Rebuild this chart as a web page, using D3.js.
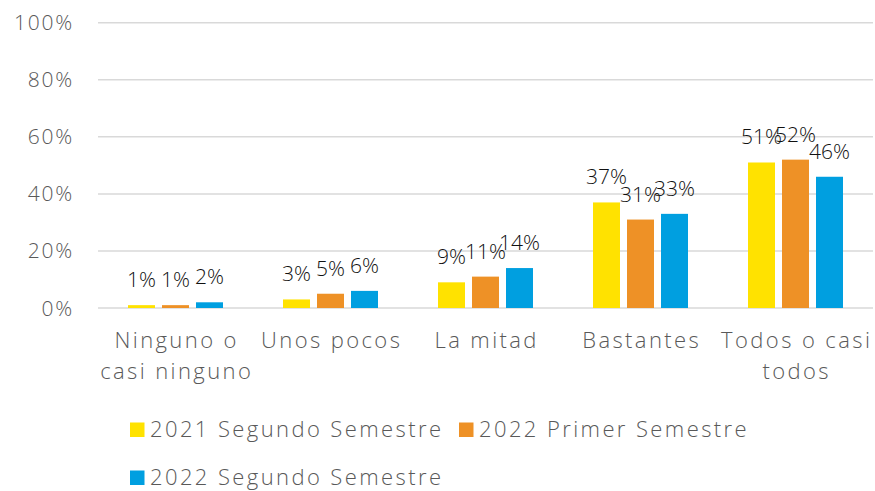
<!DOCTYPE html>
<html><head><meta charset="utf-8">
<script src="https://cdn.jsdelivr.net/npm/d3@7"></script>
<style>body{margin:0;background:#fff;}svg{display:block;font-family:"Open Sans",Lato,sans-serif;}</style>
</head><body>
<svg id="c" width="875" height="491"></svg>
<script>
const categories = [["Ninguno o","casi ninguno"],["Unos pocos"],["La mitad"],["Bastantes"],["Todos o casi","todos"]];
const seriesNames = ["2021 Segundo Semestre","2022 Primer Semestre","2022 Segundo Semestre"];
const s2021S2 = [1,3,9,37,51];
const s2022S1 = [1,5,11,31,52];
const s2022S2 = [2,6,14,33,46];
const yTicks = [0,20,40,60,80,100];
const colors = ["#FFE200","#EE9126","#009FE0"];
const seriesValues = [s2021S2,s2022S1,s2022S2];

const svg = d3.select("#c");
const pLeft = 98, pRight = 873, pTop = 22.7, pBottom = 308;
const y = d3.scaleLinear().domain([0,100]).range([pBottom, pTop]);
const x0 = d3.scaleBand().domain(d3.range(categories.length)).range([pLeft,pRight]).paddingInner(60/155).paddingOuter(30/155);
const x1 = d3.scaleBand().domain(d3.range(3)).range([0,x0.bandwidth()]).paddingInner(7/34).paddingOuter(0);

// grid
svg.append("g").selectAll("line").data(yTicks).join("line")
  .attr("x1",pLeft).attr("x2",pRight).attr("y1",d=>y(d)).attr("y2",d=>y(d))
  .attr("stroke","#d9d9d9").attr("stroke-width",1.5);
// y labels
svg.append("g").selectAll("text").data(yTicks).join("text")
  .attr("x",74).attr("y",d=>y(d)+7.5).attr("text-anchor","end")
  .attr("font-size",21).attr("font-weight",300).attr("letter-spacing",1.8)
  .attr("fill","#595959").text(d=>d+"%");

// bars
const g = svg.append("g");
seriesValues.forEach((vals,si)=>{
  g.selectAll(".b"+si).data(vals).join("rect").attr("class","b"+si)
    .attr("x",(d,i)=>x0(i)+x1(si)).attr("width",x1.bandwidth())
    .attr("y",d=>y(d)).attr("height",d=>pBottom-y(d)).attr("fill",colors[si]);
  g.selectAll(".l"+si).data(vals).join("text").attr("class","l"+si)
    .attr("x",(d,i)=>x0(i)+x1(si)+x1.bandwidth()/2).attr("y",d=>y(d)-18)
    .attr("text-anchor","middle").attr("font-size",21).attr("font-weight",300).attr("fill","#111")
    .text(d=>d+"%");
});

// category labels
const cl = svg.append("g");
categories.forEach((lines,i)=>{
  const t = cl.append("text").attr("text-anchor","middle").attr("font-size",22).attr("font-weight",300)
    .attr("letter-spacing",2.4).attr("fill","#595959");
  lines.forEach((ln,j)=>t.append("tspan").attr("x",x0(i)+x0.bandwidth()/2+1.2).attr("y",348+j*31).text(ln));
});

// legend
const legendPos = [[130,437],[459,437],[130,485]];
seriesNames.forEach((n,i)=>{
  const [lx,ly]=legendPos[i];
  svg.append("rect").attr("x",lx).attr("y",ly-14.5).attr("width",14.5).attr("height",14.5).attr("fill",colors[i]);
  svg.append("text").attr("x",lx+20).attr("y",ly).attr("font-size",22).attr("font-weight",300)
    .attr("letter-spacing",2.4).attr("fill","#595959").text(n);
});
</script>
</body></html>
